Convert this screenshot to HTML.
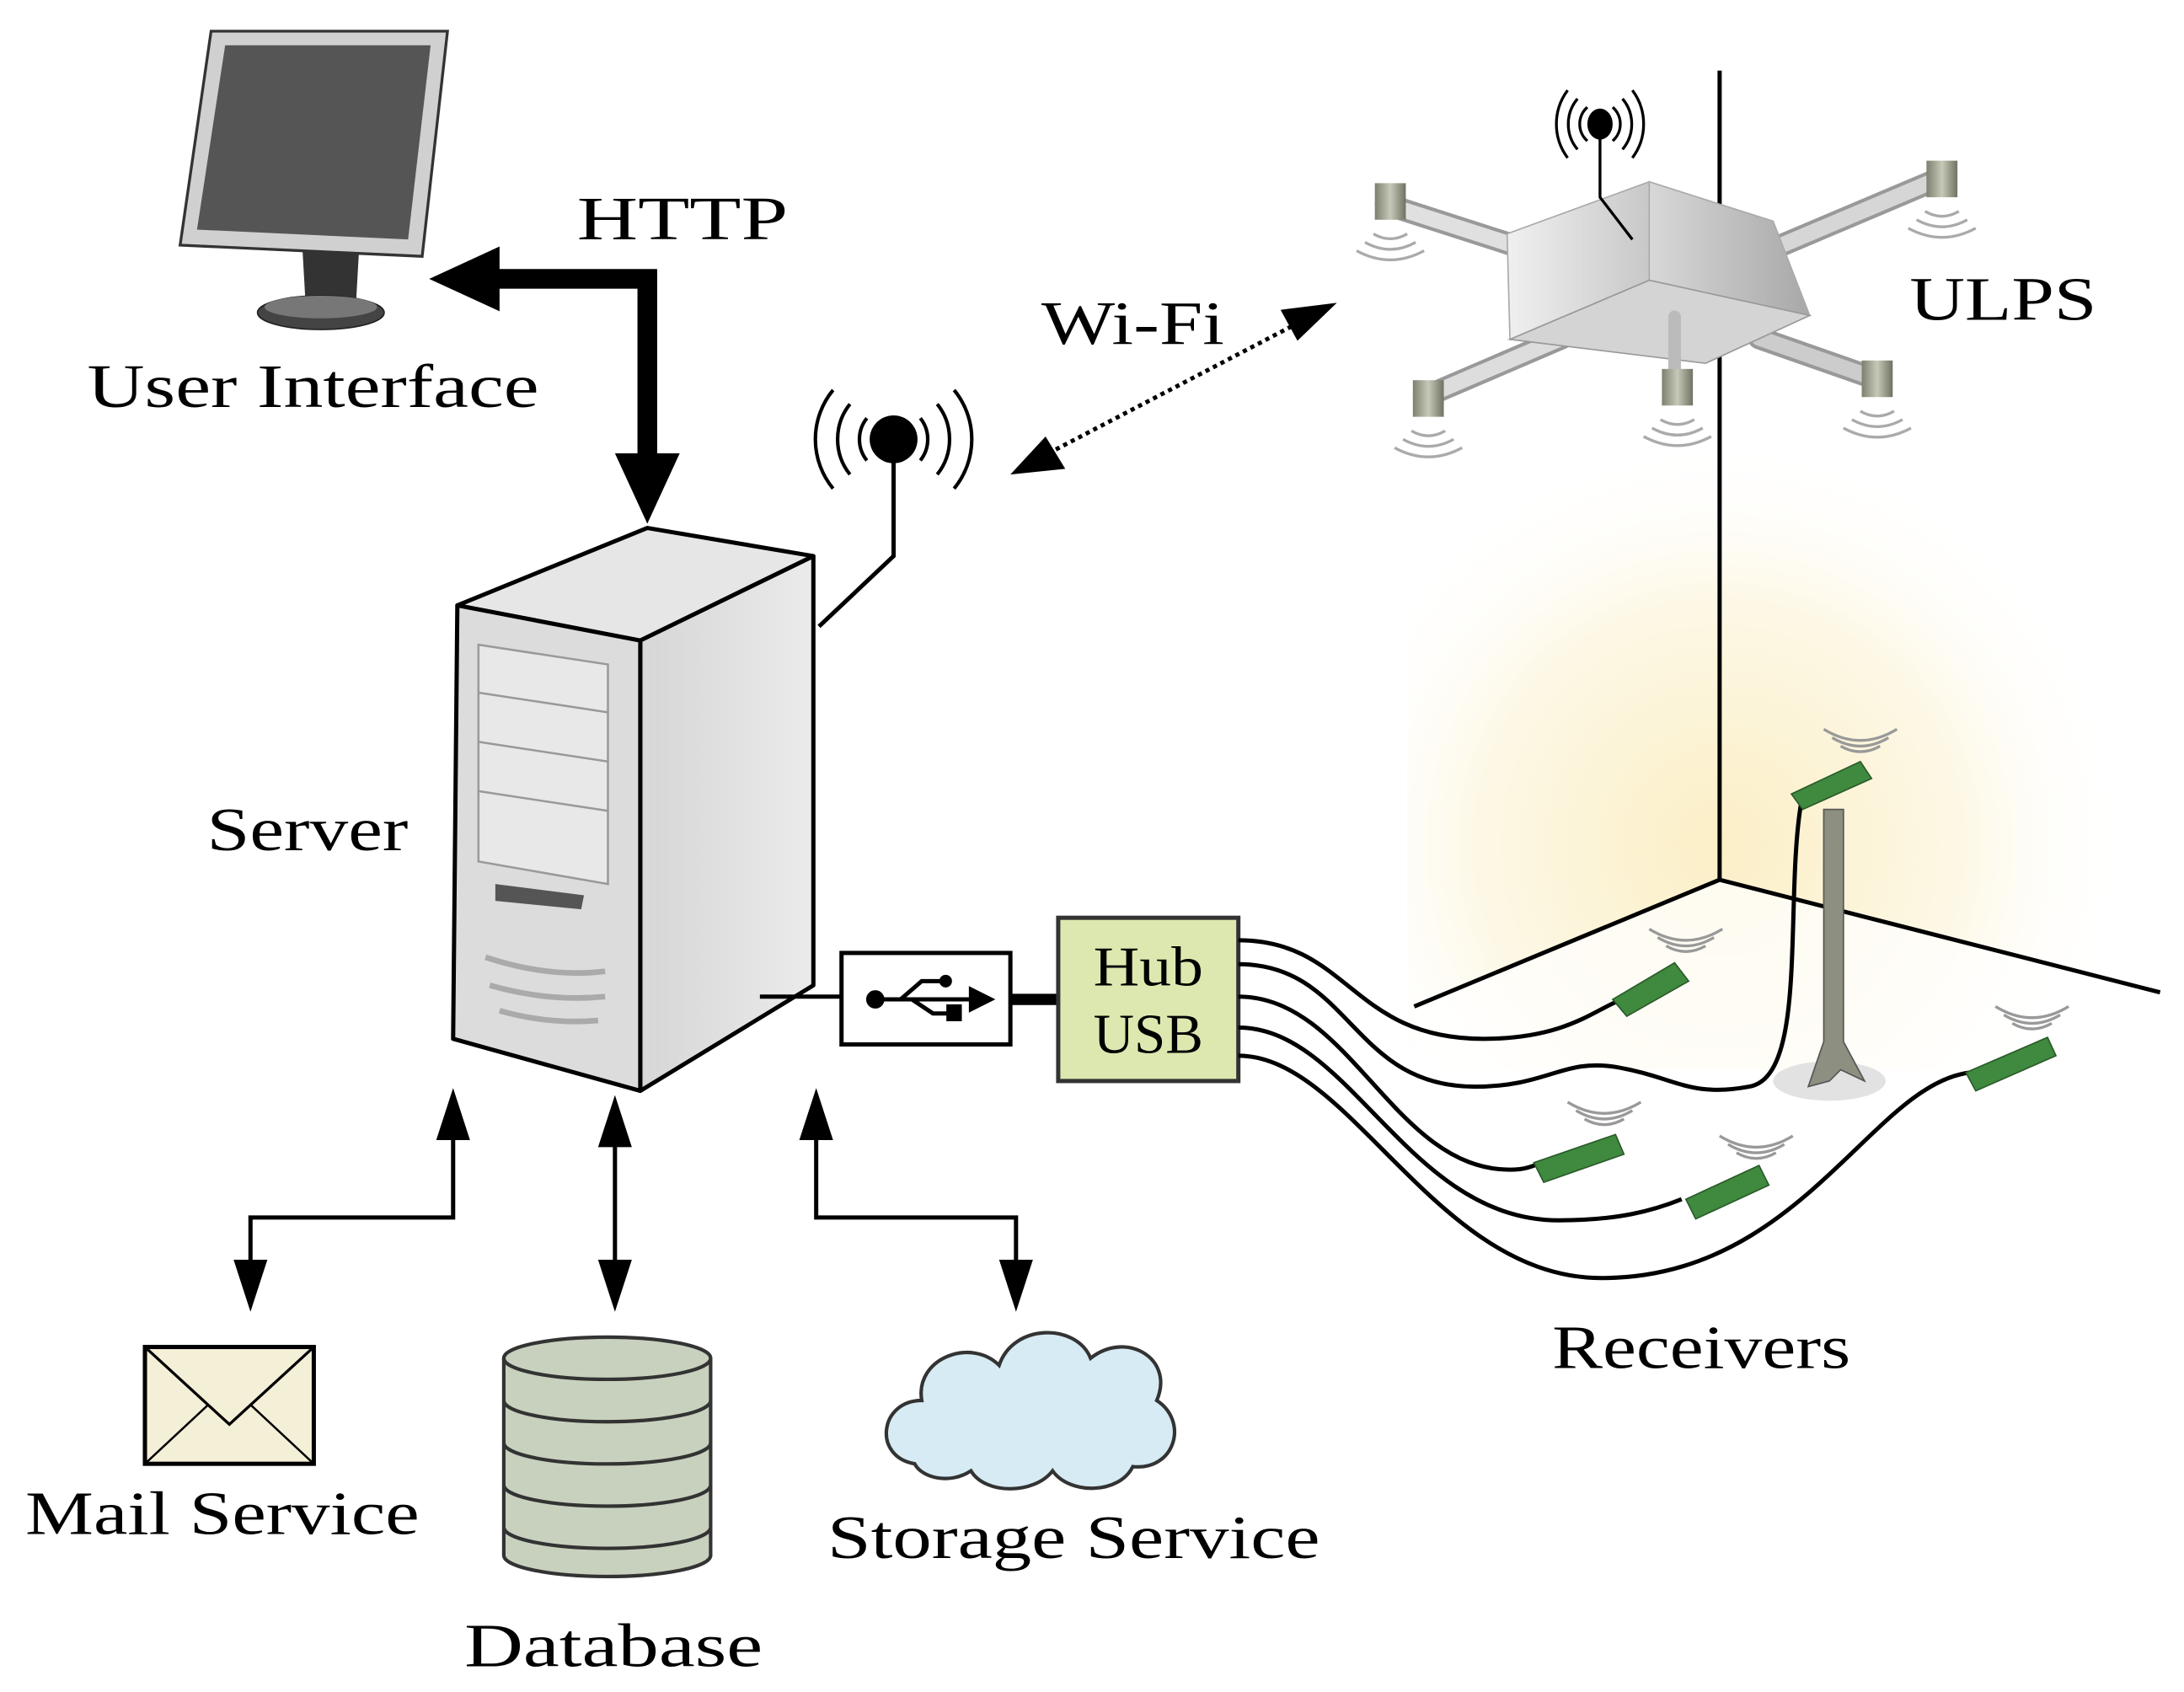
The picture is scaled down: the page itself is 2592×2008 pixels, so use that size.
<!DOCTYPE html>
<html><head><meta charset="utf-8"><style>html,body{margin:0;padding:0;background:#fff}svg{display:block}text{font-family:"Liberation Serif",serif;font-size:44px}</style></head>
<body>
<svg xmlns="http://www.w3.org/2000/svg" width="2592" height="2008" viewBox="0 0 1552 1202">
<defs>
<radialGradient id="glow" cx="1222" cy="600" r="290" gradientUnits="userSpaceOnUse">
<stop offset="0" stop-color="#fbefc6"/><stop offset="0.6" stop-color="#fdf8e6"/><stop offset="1" stop-color="#fff" stop-opacity="0"/></radialGradient>
<linearGradient id="cubeL" x1="0" x2="1"><stop offset="0" stop-color="#f0f0f0"/><stop offset="1" stop-color="#c8c8c8"/></linearGradient>
<linearGradient id="cubeR" x1="0" x2="1"><stop offset="0" stop-color="#d8d8d8"/><stop offset="1" stop-color="#a8a8a8"/></linearGradient>
<linearGradient id="srvS" x1="0" x2="1"><stop offset="0" stop-color="#d6d6d6"/><stop offset="1" stop-color="#ebebeb"/></linearGradient>
<linearGradient id="cyl" x1="0" x2="1"><stop offset="0" stop-color="#7d806f"/><stop offset="0.5" stop-color="#c7c9b8"/><stop offset="1" stop-color="#6f7262"/></linearGradient>
</defs>

<rect x="1000" y="300" width="552" height="460" fill="url(#glow)"/>
<polygon points="1005,715 1222,625 1535,705 1535,790 1005,790" fill="#fff" opacity="0.7"/>
<line x1="1222" y1="50" x2="1222" y2="625" stroke="#000" stroke-width="3"/>
<polyline points="1005,715 1222,625 1535,705" fill="none" stroke="#000" stroke-width="3"/>

<!-- Monitor -->
<polygon points="150,22 318,22 300,182 128,174" fill="#d0d0d0" stroke="#333" stroke-width="2"/>
<polygon points="160,32 306,32 290,170 140,163" fill="#555"/>
<polygon points="215,178 255,180 253,215 217,213" fill="#333"/>
<ellipse cx="228" cy="222" rx="45" ry="12" fill="#444" stroke="#222"/>
<ellipse cx="228" cy="218" rx="40" ry="8" fill="#777"/>

<text x="410" y="170" textLength="150" lengthAdjust="spacingAndGlyphs">HTTP</text>
<text x="62" y="289" textLength="321" lengthAdjust="spacingAndGlyphs">User Interface</text>
<polyline points="340,198 460,198 460,330" fill="none" stroke="#000" stroke-width="14"/>
<polygon points="305,198 355,175 355,221" fill="#000"/>
<polygon points="460,372 437,322 483,322" fill="#000"/>

<text x="740" y="244" textLength="130" lengthAdjust="spacingAndGlyphs">Wi-Fi</text>
<line x1="745" y1="322" x2="925" y2="228" stroke="#000" stroke-width="3" stroke-dasharray="3,3"/>
<polygon points="950,215 910,220 922,242" fill="#000"/>
<polygon points="718,337 743,310 757,333" fill="#000"/>

<g fill="none" stroke="#000" stroke-width="2.5">
<path d="M616,297 a24,24 0 0 0 0,30"/><path d="M654,297 a24,24 0 0 1 0,30"/>
<path d="M604,287 a40,40 0 0 0 0,50"/><path d="M666,287 a40,40 0 0 1 0,50"/>
<path d="M592,277 a55,55 0 0 0 0,70"/><path d="M678,277 a55,55 0 0 1 0,70"/>
<polyline points="635,320 635,395 582,445" stroke-width="3"/>
</g>
<circle cx="635" cy="312" r="17" fill="#000"/>

<!-- server -->
<polygon points="325,430 460,375 578,395 455,455" fill="#e6e6e6" stroke="#000" stroke-width="3" stroke-linejoin="round"/>
<polygon points="455,455 578,395 578,700 455,775" fill="url(#srvS)" stroke="#000" stroke-width="3" stroke-linejoin="round"/>
<polygon points="325,430 455,455 455,775 322,738" fill="#dcdcdc" stroke="#000" stroke-width="3" stroke-linejoin="round"/>
<g fill="#e8e8e8" stroke="#999" stroke-width="1.5">
<polygon points="340,458 432,472 432,628 340,612"/>
<line x1="340" y1="492" x2="432" y2="506"/><line x1="340" y1="527" x2="432" y2="541"/><line x1="340" y1="562" x2="432" y2="576"/>
</g>
<path d="M352,628 L415,636 L413,646 L352,640 z" fill="#555"/>
<g stroke="#aaa" stroke-width="4" fill="none"><path d="M345,680 Q390,695 430,690"/><path d="M348,700 Q390,712 430,708"/><path d="M355,718 Q390,728 425,725"/></g>
<text x="147" y="604" textLength="143" lengthAdjust="spacingAndGlyphs">Server</text>

<!-- USB -->
<line x1="540" y1="708" x2="598" y2="708" stroke="#000" stroke-width="3"/>
<rect x="598" y="677" width="120" height="65" fill="#fff" stroke="#000" stroke-width="3"/>
<g stroke="#000" stroke-width="3" fill="#000">
<line x1="622" y1="710" x2="692" y2="710"/><circle cx="622" cy="710" r="5"/>
<polyline points="640,710 655,697 670,697" fill="none"/><circle cx="672" cy="697" r="3"/>
<polyline points="648,710 663,720 676,720" fill="none"/><rect x="674" y="715" width="8" height="9"/>
<polygon points="704,710 690,703 690,717"/>
</g>
<line x1="718" y1="710" x2="752" y2="710" stroke="#000" stroke-width="8"/>
<rect x="752" y="652" width="128" height="116" fill="#dde8b0" stroke="#333" stroke-width="3"/>
<text x="816" y="700" text-anchor="middle" style="font-size:40px" textLength="78" lengthAdjust="spacingAndGlyphs">Hub</text>
<text x="816" y="748" text-anchor="middle" style="font-size:40px" textLength="78" lengthAdjust="spacingAndGlyphs">USB</text>

<g fill="none" stroke="#000" stroke-width="3">
<path d="M880,668 C960,668 960,740 1058,738 C1110,737 1130,720 1148,712"/>
<path d="M880,685 C960,685 960,772 1048,772 C1100,772 1110,752 1148,758 C1190,765 1200,780 1243,772 C1285,765 1268,640 1280,570"/>
<path d="M880,708 C960,708 990,831 1073,831 C1085,831 1090,828 1098,825"/>
<path d="M880,730 C960,730 1000,867 1108,867 C1150,867 1175,860 1195,852"/>
<path d="M880,750 C960,750 1020,908 1138,908 C1280,908 1330,770 1400,762"/>
</g>

<ellipse cx="1300" cy="768" rx="40" ry="14" fill="#e2e2e2"/>
<polygon points="1296,575 1310,575 1310,740 1325,768 1308,760 1300,768 1285,772 1296,740" fill="#8d8f80" stroke="#555" stroke-width="1"/>

<g fill="#3f8a3e" stroke="#2a5a2a" stroke-width="1">
<polygon points="1146,710 1190,684 1200,697 1156,722"/>
<polygon points="1273,564 1322,541 1330,553 1281,575"/>
<polygon points="1397,762 1455,737 1461,750 1404,775"/>
<polygon points="1090,826 1148,806 1154,820 1097,840"/>
<polygon points="1198,852 1250,828 1257,842 1205,866"/>
</g>
<g fill="none" stroke="#999" stroke-width="2">
<path d="M1184,672 q14,8 28,0 M1178,666 q20,12 40,0 M1172,660 q26,16 52,0"/>
<path d="M1308,530 q14,8 28,0 M1302,524 q20,12 40,0 M1296,518 q26,16 52,0"/>
<path d="M1430,727 q14,8 28,0 M1424,721 q20,12 40,0 M1418,715 q26,16 52,0"/>
<path d="M1126,795 q14,8 28,0 M1120,789 q20,12 40,0 M1114,783 q26,16 52,0"/>
<path d="M1234,819 q14,8 28,0 M1228,813 q20,12 40,0 M1222,807 q26,16 52,0"/>
</g>
<text x="1103" y="972" textLength="212" lengthAdjust="spacingAndGlyphs">Receivers</text>

<!-- ULPS -->
<g stroke-linecap="round">
<line x1="985" y1="145" x2="1125" y2="190" stroke="#999" stroke-width="16"/>
<line x1="985" y1="145" x2="1125" y2="190" stroke="#e0e0e0" stroke-width="11"/>
<line x1="1375" y1="128" x2="1245" y2="183" stroke="#999" stroke-width="16"/>
<line x1="1375" y1="128" x2="1245" y2="183" stroke="#d6d6d6" stroke-width="11"/>
<line x1="1012" y1="282" x2="1110" y2="240" stroke="#999" stroke-width="16"/>
<line x1="1012" y1="282" x2="1110" y2="240" stroke="#ddd" stroke-width="11"/>
<line x1="1330" y1="268" x2="1250" y2="240" stroke="#999" stroke-width="16"/>
<line x1="1330" y1="268" x2="1250" y2="240" stroke="#ccc" stroke-width="11"/>
</g>
<polygon points="1172,129 1172,199 1073,241 1071,166" fill="url(#cubeL)" stroke="#aaa" stroke-width="1"/>
<polygon points="1172,129 1260,157 1286,224 1172,199" fill="url(#cubeR)" stroke="#aaa" stroke-width="1"/>
<polygon points="1172,199 1286,224 1212,258 1073,241" fill="#d4d4d4" stroke="#999" stroke-width="1"/>
<line x1="1190" y1="225" x2="1190" y2="265" stroke="#bbb" stroke-width="9" stroke-linecap="round"/>
<g fill="url(#cyl)">
<rect x="977" y="130" width="22" height="26"/><rect x="1369" y="114" width="22" height="26"/>
<rect x="1004" y="270" width="22" height="26"/><rect x="1181" y="262" width="22" height="26"/>
<rect x="1323" y="256" width="22" height="26"/>
</g>
<g fill="none" stroke="#aaa" stroke-width="2">
<path d="M976,166 q12,7 24,0 M970,172 q18,10 36,0 M964,178 q24,13 48,0"/>
<path d="M1368,150 q12,7 24,0 M1362,156 q18,10 36,0 M1356,162 q24,13 48,0"/>
<path d="M1003,306 q12,7 24,0 M997,312 q18,10 36,0 M991,318 q24,13 48,0"/>
<path d="M1180,298 q12,7 24,0 M1174,304 q18,10 36,0 M1168,310 q24,13 48,0"/>
<path d="M1322,292 q12,7 24,0 M1316,298 q18,10 36,0 M1310,304 q24,13 48,0"/>
</g>
<g fill="none" stroke="#000" stroke-width="2">
<path d="M1128,76 a16,16 0 0 0 0,24 M1146,76 a16,16 0 0 1 0,24"/>
<path d="M1121,70 a28,28 0 0 0 0,36 M1153,70 a28,28 0 0 1 0,36"/>
<path d="M1114,64 a40,40 0 0 0 0,48 M1160,64 a40,40 0 0 1 0,48"/>
<polyline points="1137,95 1137,140 1160,170"/>
</g>
<ellipse cx="1137" cy="88" rx="9" ry="11" fill="#000"/>
<text x="1357" y="227" textLength="133" lengthAdjust="spacingAndGlyphs">ULPS</text>

<g fill="none" stroke="#000" stroke-width="3">
<polyline points="322,800 322,865 178,865 178,905"/>
<line x1="437" y1="805" x2="437" y2="905"/>
<polyline points="580,800 580,865 722,865 722,905"/>
</g>
<g fill="#000">
<polygon points="322,773 310,810 334,810"/><polygon points="178,932 166,895 190,895"/>
<polygon points="437,778 425,815 449,815"/><polygon points="437,932 425,895 449,895"/>
<polygon points="580,773 568,810 592,810"/><polygon points="722,932 710,895 734,895"/>
</g>

<rect x="103" y="957" width="120" height="83" fill="#f4efd7" stroke="#000" stroke-width="3"/>
<polyline points="103,957 163,1012 223,957" fill="none" stroke="#000" stroke-width="2"/>
<line x1="103" y1="1040" x2="148" y2="998" stroke="#000" stroke-width="1.5"/>
<line x1="223" y1="1040" x2="178" y2="998" stroke="#000" stroke-width="1.5"/>
<text x="18" y="1090" textLength="280" lengthAdjust="spacingAndGlyphs">Mail Service</text>

<g stroke="#333" stroke-width="2.5" fill="#c8d1be">
<path d="M358,1085 v20 a73,15 0 0 0 147,0 v-20"/>
<path d="M358,1055 v30 a73,15 0 0 0 147,0 v-30"/>
<path d="M358,1025 v30 a73,15 0 0 0 147,0 v-30"/>
<path d="M358,995 v30 a73,15 0 0 0 147,0 v-30"/>
<path d="M358,965 v30 a73,15 0 0 0 147,0 v-30"/>
<ellipse cx="431.5" cy="965" rx="73.5" ry="15"/>
</g>
<text x="330" y="1184" textLength="212" lengthAdjust="spacingAndGlyphs">Database</text>

<path d="M650,1040 C620,1035 625,995 655,995 C650,965 690,950 710,970 C720,940 765,940 775,965 C800,945 835,965 822,995 C845,1010 835,1045 805,1042 C795,1062 760,1062 748,1045 C735,1062 700,1062 690,1045 C675,1055 655,1050 650,1040 z" fill="#d6ebf4" stroke="#333" stroke-width="2.5"/>
<text x="588" y="1107" textLength="350" lengthAdjust="spacingAndGlyphs">Storage Service</text>
</svg>
</body></html>
